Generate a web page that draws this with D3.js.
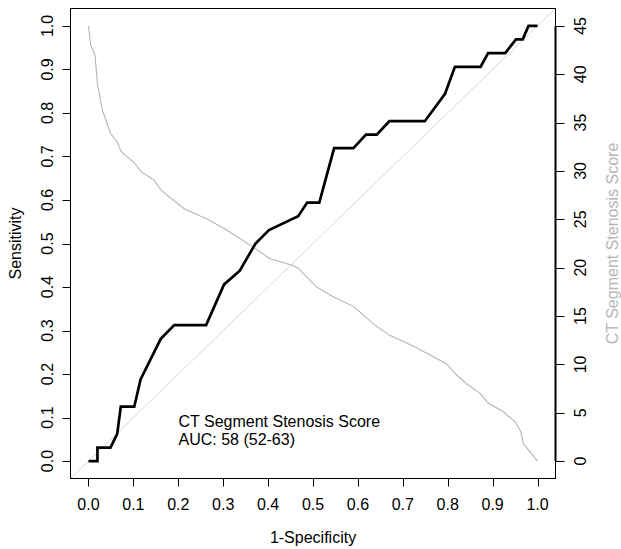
<!DOCTYPE html>
<html>
<head>
<meta charset="utf-8">
<script src="https://cdn.jsdelivr.net/npm/d3@7"></script>
<style>
html, body { margin: 0; padding: 0; background: #fff; }
svg { display: block; font-family: "Liberation Sans", Arial, Helvetica, sans-serif; }
</style>
</head>
<body>
<svg id="chart" width="621" height="549"></svg>
<script>
// ROC curve: 1-Specificity (fpr) and Sensitivity (tpr)
const rocFpr = [0, 0.02, 0.02, 0.049, 0.064, 0.072, 0.102, 0.116, 0.161, 0.191, 0.262, 0.302, 0.337, 0.372, 0.402, 0.467, 0.487, 0.514, 0.547, 0.590, 0.618, 0.642, 0.670, 0.749, 0.794, 0.816, 0.873, 0.890, 0.928, 0.952, 0.967, 0.980, 1.0];
const rocTpr = [0, 0, 0.031, 0.031, 0.0625, 0.125, 0.125, 0.1875, 0.281, 0.3125, 0.3125, 0.406, 0.4375, 0.5, 0.531, 0.5625, 0.594, 0.594, 0.719, 0.719, 0.75, 0.75, 0.781, 0.781, 0.844, 0.906, 0.906, 0.9375, 0.9375, 0.969, 0.969, 1.0, 1.0];

// Threshold curve: 1-Specificity vs CT Segment Stenosis Score (right axis)
const thrFpr = [0, 0.005, 0.0145, 0.02, 0.031, 0.049, 0.064, 0.073, 0.101, 0.118, 0.146, 0.162, 0.213, 0.265, 0.308, 0.371, 0.403, 0.45, 0.466, 0.508, 0.545, 0.59, 0.638, 0.671, 0.723, 0.796, 0.82, 0.842, 0.872, 0.89, 0.924, 0.95, 0.963, 0.968, 1.0];
const thrScore = [45, 43, 42, 39, 36.3, 33.9, 33, 32, 30.9, 29.9, 29.05, 28, 26.1, 25, 23.9, 22, 20.95, 20.3, 20, 18, 17, 16, 14.06, 13, 11.9, 10.1, 8.9, 8, 7, 6, 5.1, 4.06, 3.03, 1.83, 0];

const xTicks = [0, 0.1, 0.2, 0.3, 0.4, 0.5, 0.6, 0.7, 0.8, 0.9, 1.0];
const yTicks = [0, 0.1, 0.2, 0.3, 0.4, 0.5, 0.6, 0.7, 0.8, 0.9, 1.0];
const rTicks = [0, 5, 10, 15, 20, 25, 30, 35, 40, 45];

const xLabel = "1-Specificity";
const yLabel = "Sensitivity";
const rLabel = "CT Segment Stenosis Score";
const legendLines = ["CT Segment Stenosis Score", "AUC: 58 (52-63)"];

const svg = d3.select("#chart");
const L = 70.5, R = 555.5, T = 8.5, B = 478.5;

const x = d3.scaleLinear().domain([-0.04, 1.04]).range([L, R]);
const y = d3.scaleLinear().domain([-0.04, 1.04]).range([B, T]);
const yr = d3.scaleLinear().domain([-1.8, 46.8]).range([B, T]);

const fs = 16;

// clip
svg.append("clipPath").attr("id", "clip")
  .append("rect").attr("x", L).attr("y", T).attr("width", R - L).attr("height", B - T);

const plot = svg.append("g").attr("clip-path", "url(#clip)");

// diagonal reference
plot.append("line")
  .attr("x1", x(-0.04)).attr("y1", y(-0.04))
  .attr("x2", x(1.04)).attr("y2", y(1.04))
  .attr("stroke", "#d6d6d6").attr("stroke-width", 1);

// threshold curve
const thrData = thrFpr.map((f, i) => [f, thrScore[i]]);
plot.append("path")
  .datum(thrData)
  .attr("fill", "none")
  .attr("stroke", "#b4b4b4")
  .attr("stroke-width", 1.1)
  .attr("d", d3.line().x(d => x(d[0])).y(d => yr(d[1])));

// ROC curve
const rocData = rocFpr.map((f, i) => [f, rocTpr[i]]);
plot.append("path")
  .datum(rocData)
  .attr("fill", "none")
  .attr("stroke", "#000")
  .attr("stroke-width", 2.7)
  .attr("stroke-linejoin", "miter")
  .attr("d", d3.line().x(d => x(d[0])).y(d => y(d[1])));

// box
svg.append("rect")
  .attr("x", L).attr("y", T).attr("width", R - L).attr("height", B - T)
  .attr("fill", "none").attr("stroke", "#000").attr("stroke-width", 1);

// bottom axis
const gx = svg.append("g");
gx.append("line").attr("x1", x(0)).attr("x2", x(1)).attr("y1", B).attr("y2", B).attr("stroke", "#000");
gx.selectAll("line.t").data(xTicks).enter().append("line")
  .attr("class", "t")
  .attr("x1", d => Math.round(x(d)) + 0.5).attr("x2", d => Math.round(x(d)) + 0.5)
  .attr("y1", B).attr("y2", B + 8).attr("stroke", "#000");
gx.selectAll("text").data(xTicks).enter().append("text")
  .attr("x", d => x(d)).attr("y", 510)
  .attr("text-anchor", "middle").attr("font-size", fs).attr("fill", "#000")
  .text(d => d3.format(".1f")(d));

// left axis
const gy = svg.append("g");
gy.append("line").attr("x1", L).attr("x2", L).attr("y1", y(0)).attr("y2", y(1)).attr("stroke", "#000");
gy.selectAll("line.t").data(yTicks).enter().append("line")
  .attr("class", "t")
  .attr("x1", L).attr("x2", L - 8)
  .attr("y1", d => Math.round(y(d)) + 0.5).attr("y2", d => Math.round(y(d)) + 0.5)
  .attr("stroke", "#000");
gy.selectAll("text").data(yTicks).enter().append("text")
  .attr("transform", d => `translate(53,${y(d)}) rotate(-90)`)
  .attr("text-anchor", "middle").attr("font-size", fs).attr("fill", "#000")
  .text(d => d3.format(".1f")(d));

// right axis
const gr = svg.append("g");
gr.append("line").attr("x1", R).attr("x2", R).attr("y1", yr(0)).attr("y2", yr(45))
  .attr("stroke", "#000").attr("stroke-width", 2);
gr.selectAll("line.t").data(rTicks).enter().append("line")
  .attr("class", "t")
  .attr("x1", R).attr("x2", R + 9)
  .attr("y1", d => Math.round(yr(d)) + 0.5).attr("y2", d => Math.round(yr(d)) + 0.5)
  .attr("stroke", "#000");
gr.selectAll("text").data(rTicks).enter().append("text")
  .attr("transform", d => `translate(586,${yr(d)}) rotate(-90)`)
  .attr("text-anchor", "middle").attr("font-size", fs).attr("fill", "#000")
  .text(d => d);

// axis titles
svg.append("text")
  .attr("x", (L + R) / 2).attr("y", 543)
  .attr("text-anchor", "middle").attr("font-size", fs).attr("fill", "#000")
  .text(xLabel);
svg.append("text")
  .attr("transform", `translate(21,${(T + B) / 2}) rotate(-90)`)
  .attr("text-anchor", "middle").attr("font-size", fs).attr("fill", "#000")
  .text(yLabel);
svg.append("text")
  .attr("transform", `translate(618,${(T + B) / 2}) rotate(-90)`)
  .attr("text-anchor", "middle").attr("font-size", fs).attr("fill", "#b4b4b4")
  .text(rLabel);

// legend text
svg.selectAll("text.leg").data(legendLines).enter().append("text")
  .attr("class", "leg")
  .attr("x", 178.5).attr("y", (d, i) => 427 + i * 18)
  .attr("font-size", fs).attr("fill", "#000")
  .text(d => d);
</script>
</body>
</html>
